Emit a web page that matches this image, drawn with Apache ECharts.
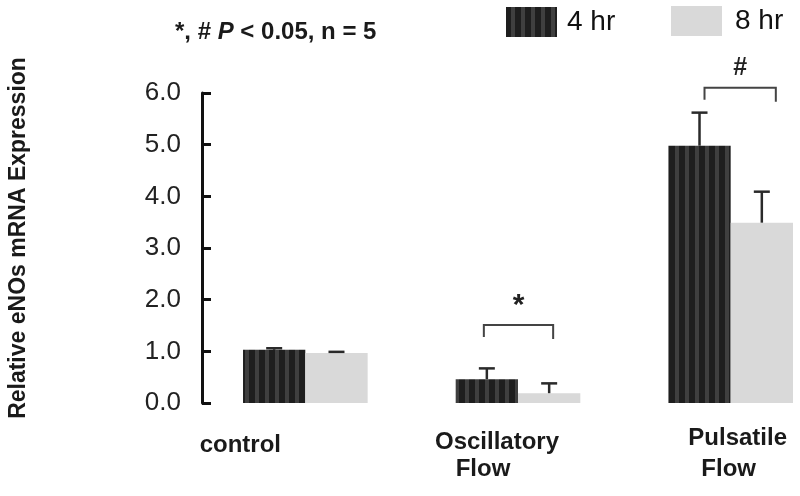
<!DOCTYPE html>
<html><head><meta charset="utf-8">
<script src="https://cdn.jsdelivr.net/npm/echarts@6/dist/echarts.min.js"></script>
<style>html,body{margin:0;padding:0;background:#fff}#c{width:800px;height:496px}</style>
</head><body><div id="c"></div>
<script>
// ---- data ----
const categories = ['control', 'Oscillatory Flow', 'Pulsatile Flow'];
const seriesNames = ['4 hr', '8 hr'];
const hr4 = [1.03, 0.46, 4.98];
const hr4Err = [0.03, 0.21, 0.64];
const hr8 = [0.97, 0.19, 3.49];
const hr8Err = [0.02, 0.19, 0.60];
const bracketLevel = [null, 1.51, 6.10];
const sigMarks = ['', '*', '#'];
const yTickValues = [0, 1, 2, 3, 4, 5, 6];
const yTitle = 'Relative eNOs mRNA Expression';

// ---- styles ----
const FONT = 'Liberation Sans, Arial, sans-serif';
const BCG = 0.414;
const pc = document.createElement('canvas'); pc.width = 10; pc.height = 10;
const g = pc.getContext('2d');
g.fillStyle = '#1e1e1e'; g.fillRect(0, 0, 10, 10);
g.fillStyle = '#3f3f3f'; g.fillRect(5, 0, 4, 10);
const stripe = { image: pc, repeat: 'repeat' };
const light = '#d9d9d9';

function barCenter(api, idx, side) {
  const band = api.size([1, 0])[0];
  const w = band * (1 - BCG) / 2;
  return api.coord([idx, 0])[0] + side * w / 2;
}
function errRender(side) {
  return function (params, api) {
    const idx = api.value(0), v = api.value(1), e = api.value(2);
    const x = barCenter(api, idx, side);
    const y0 = api.coord([idx, v])[1], y1 = api.coord([idx, v + e])[1];
    const st = { stroke: '#2a2a2a', lineWidth: 2.5 };
    return { type: 'group', children: [
      { type: 'line', shape: { x1: x, y1: y0, x2: x, y2: y1 }, style: st },
      { type: 'line', shape: { x1: x - 8, y1: y1, x2: x + 8, y2: y1 }, style: st }
    ] };
  };
}
const bracketPad = [[0, 0], [-3, 4], [5, 14]];
function bracketRender(params, api) {
  const idx = api.value(0), lvl = api.value(1);
  const xl = barCenter(api, idx, -1) + bracketPad[idx][0];
  const xr = barCenter(api, idx, 1) + bracketPad[idx][1];
  const y = api.coord([idx, lvl])[1];
  const mark = sigMarks[idx];
  return { type: 'group', children: [
    { type: 'polyline', shape: { points: [[xl, y + 12], [xl, y], [xr, y], [xr, y + 14]] },
      style: { stroke: '#444', lineWidth: 2, fill: null } },
    { type: 'text', style: { text: mark, x: (xl + xr) / 2, y: mark === '*' ? y - 19 : y - 20,
      textAlign: 'center', textVerticalAlign: 'middle', align: 'center', verticalAlign: 'middle',
      font: 'bold ' + (mark === '*' ? 30 : 25) + 'px ' + FONT, fill: '#222' } }
  ] };
}

const lab = (pad) => ({ fontSize: 24, fontWeight: 'bold', fontFamily: FONT, color: '#1a1a1a', lineHeight: 31, padding: pad });
const labelRich = {
  c: lab([13, 130, 0, 0]),
  o1: lab([8, 42, 0, 0]),
  o2: lab([0, 70, 0, 0]),
  p1: lab([0, 0, 0, 14]),
  p2: lab([0, 4, 0, 0])
};
const labelKeys = [['c'], ['o1', 'o2'], ['p1', 'p2']];

const chart = echarts.init(document.getElementById('c'), null, { renderer: 'canvas' });
chart.setOption({
  animation: false,
  backgroundColor: '#fff',
  grid: { left: 199, width: 638, top: 93, bottom: 93, containLabel: false, outerBoundsMode: 'none' },
  legend: [
    { data: [seriesNames[0]], left: 506, top: 7, padding: 0, itemWidth: 51, itemHeight: 30, icon: 'rect',
      textStyle: { fontSize: 28, fontFamily: FONT, color: '#111', padding: [0, 0, 0, 5] } },
    { data: [seriesNames[1]], left: 671, top: 6, padding: 0, itemWidth: 51, itemHeight: 30, icon: 'rect',
      textStyle: { fontSize: 28, fontFamily: FONT, color: '#111', padding: [0, 0, 0, 8] } }
  ],
  graphic: [{
    type: 'text', left: 175, top: 20,
    style: {
      text: '{b|*, # }{i|P}{b| < 0.05, n = 5}',
      rich: {
        b: { fontSize: 24, fontWeight: 'bold', fontFamily: FONT, fill: '#1a1a1a' },
        i: { fontSize: 24, fontWeight: 'bold', fontStyle: 'italic', fontFamily: FONT, fill: '#1a1a1a' }
      }
    }
  }],
  xAxis: {
    type: 'category', data: categories,
    axisLine: { show: false }, axisTick: { show: false },
    axisLabel: {
      interval: 0, margin: 20,
      formatter: function (v, i) {
        const parts = v.split(' ');
        const keys = labelKeys[i];
        if (keys.length === 1) return '{' + keys[0] + '|' + v + '}';
        return '{' + keys[0] + '|' + parts[0] + '}\n{' + keys[1] + '|' + parts[1] + '}';
      },
      rich: labelRich
    }
  },
  yAxis: {
    type: 'value', min: yTickValues[0], max: yTickValues[yTickValues.length - 1], interval: 1,
    offset: -3,
    name: yTitle, nameLocation: 'middle', nameRotate: 90, nameGap: 172,
    nameTextStyle: { fontSize: 23, fontWeight: 'bold', fontFamily: FONT, color: '#1a1a1a', padding: [0, 0, 0, 20] },
    axisLine: { show: true, lineStyle: { color: '#111', width: 3 } },
    axisTick: { show: true, inside: true, length: 9, lineStyle: { color: '#111', width: 3 } },
    splitLine: { show: false },
    axisLabel: { fontSize: 26, fontFamily: FONT, color: '#222', margin: 21,
      formatter: function (v) { return v.toFixed(1); } }
  },
  series: [
    { name: seriesNames[0], type: 'bar', data: hr4, barGap: '0%', barCategoryGap: (BCG * 100) + '%',
      itemStyle: { color: stripe } },
    { name: seriesNames[1], type: 'bar', data: hr8, barGap: '0%', barCategoryGap: (BCG * 100) + '%',
      itemStyle: { color: light } },
    { type: 'custom', z: 5, renderItem: errRender(-1), data: hr4.map((v, i) => [i, v, hr4Err[i]]) },
    { type: 'custom', z: 5, renderItem: errRender(1), data: hr8.map((v, i) => [i, v, hr8Err[i]]) },
    { type: 'custom', z: 5, renderItem: bracketRender,
      data: bracketLevel.map((v, i) => [i, v]).filter(d => d[1] != null) }
  ]
});
</script></body></html>
